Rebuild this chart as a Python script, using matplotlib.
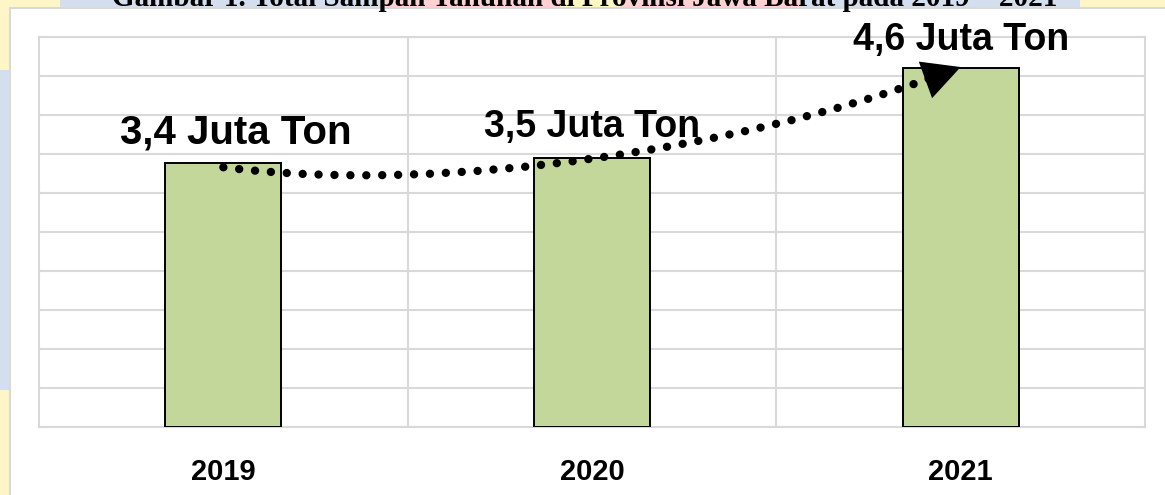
import numpy as np
import matplotlib.pyplot as plt
from matplotlib.patches import Rectangle, PathPatch
from matplotlib.path import Path

# data
years = ["2019", "2020", "2021"]
sampah = [3.38, 3.45, 4.60]          # juta ton
labels = ["3,4 Juta Ton", "3,5 Juta Ton", "4,6 Juta Ton"]
judul = "Gambar 1. Total Sampah Tahunan di Provinsi Jawa Barat pada 2019 \u2013 2021"

W, H = 1165, 495
fig = plt.figure(figsize=(W / 100, H / 100), dpi=100)
fig.patch.set_facecolor("#d3dfee")

# latar belakang (watermark) dalam koordinat piksel
bg = fig.add_axes([0, 0, 1, 1])
bg.set_xlim(0, W)
bg.set_ylim(H, 0)
bg.axis("off")
bg.add_patch(Rectangle((0, 0), 60, 70, color="#fff6c8", lw=0))
bg.add_patch(Rectangle((0, 390), 12, 105, color="#fff6c8", lw=0))
bg.add_patch(Rectangle((380, 0), 420, 9, color="#ffd1d1", lw=0))
bg.add_patch(Rectangle((560, 0), 60, 9, color="#fff6c8", lw=0))
bg.add_patch(Rectangle((1080, 0), 85, 9, color="#fff6c8", lw=0))
# kotak putih
bg.add_patch(Rectangle((10, 8), W, H, facecolor="white", edgecolor="#d9d9d9", lw=1.5))
bg.text(585, 5.5, judul, ha="center", va="baseline", fontsize=21,
        fontweight="bold", family="Liberation Serif", color="black")

ax = fig.add_axes([39 / W, 1 - 427 / H, (1145 - 39) / W, (427 - 37) / H])
ax.set_facecolor("white")
x = np.arange(len(years))
ax.bar(x, sampah, width=0.315, color="#c4d79b", edgecolor="black", lw=1.4, zorder=3)

ax.set_xlim(-0.5, 2.5)
ax.set_ylim(0, 5)
ax.set_yticks(np.arange(0, 5.01, 0.5))
ax.set_yticklabels([])
ax.set_xticks(x)
ax.set_xticklabels(years, fontsize=21, fontweight="bold", family="Liberation Sans")
ax.set_xticks([0.5, 1.5], minor=True)
ax.tick_params(axis="both", which="both", length=0)
ax.tick_params(axis="x", pad=22)
ax.grid(axis="y", color="#d9d9d9", lw=1.5, zorder=0)
ax.grid(axis="x", which="minor", color="#d9d9d9", lw=1.5, zorder=0)
ax.set_axisbelow(True)
for s in ax.spines.values():
    s.set_color("#d9d9d9")
    s.set_linewidth(1.5)

# label nilai
label_pos = [(0.035, 3.77), (1.0, 3.85), (2.0, 4.96)]
label_size = [29, 27, 27]
for (lx, ly), t, fs in zip(label_pos, labels, label_size):
    ax.text(lx, ly, t, ha="center", va="center", fontsize=fs, fontweight="bold",
            family="Liberation Sans", color="black", zorder=5, clip_on=False)

# panah titik-titik melengkung (garis berhenti sebelum kepala panah)
p0 = np.array([0.0, sampah[0] - 0.05])
p3 = np.array([2.0, sampah[2] + 0.015])
p1 = np.array([0.615, 2.97])
p2 = np.array([1.347, 3.49])
p3_dot = p3 - 0.13 * (p3 - p2)
p2_dot = p2 + 0.1 * (p3 - p2)
curve = Path([p0, p1, p2_dot, p3_dot], [Path.MOVETO, Path.CURVE4, Path.CURVE4, Path.CURVE4])
ax.add_patch(PathPatch(curve, fill=False, edgecolor="black", lw=6,
                       linestyle=(0, (0.01, 1.9)), capstyle="round", zorder=6,
                       clip_on=False))
tail = p3 - 0.25 * (p3 - p2)
ax.annotate("", xy=tuple(p3), xytext=tuple(tail),
            arrowprops=dict(arrowstyle="-|>,head_length=1.35,head_width=0.7",
                            color="black", lw=0, shrinkA=0, shrinkB=0,
                            mutation_scale=20), zorder=7)

plt.savefig("out.png", dpi=100)
